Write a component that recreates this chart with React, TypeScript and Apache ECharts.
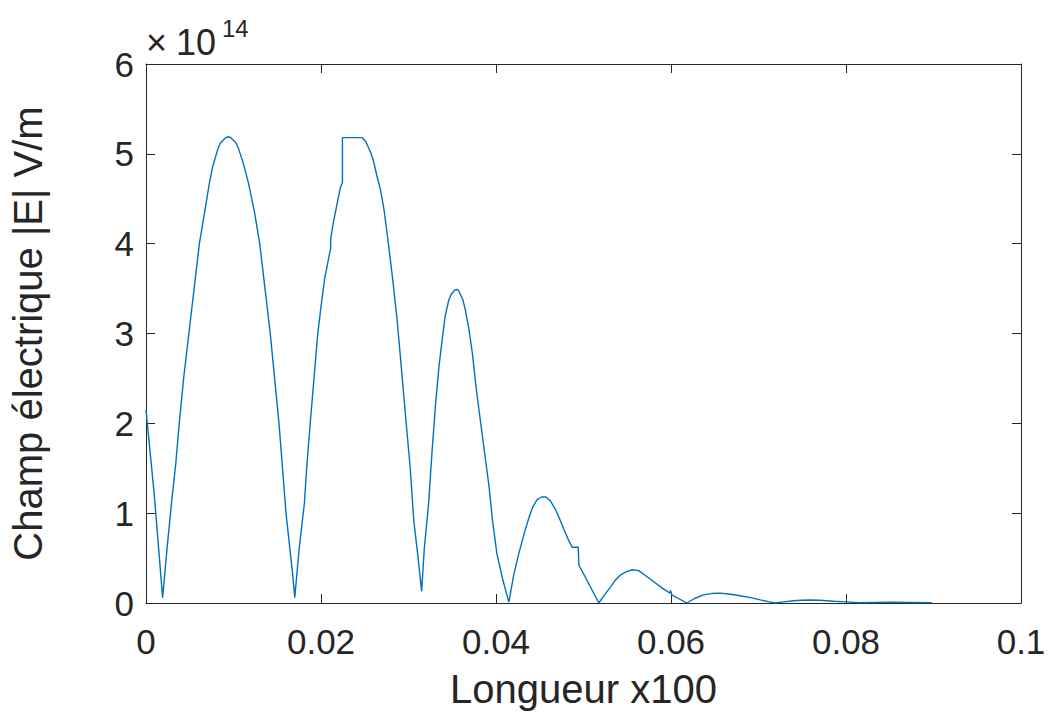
import React, { useEffect, useRef } from "react";
import * as echarts from "echarts";

// Longueur x100 (x) and |E| in units of 1e14 V/m (y)
const xValues: number[] = [
  0, 0.00095, 0.0019,
  0.0024, 0.0029, 0.0034, 0.0038, 0.0043, 0.0049, 0.0055, 0.0061, 0.0067, 0.0072, 0.0076, 0.0082, 0.0085, 0.0091, 0.0094,
  0.0097, 0.0103, 0.0106, 0.0111, 0.0117, 0.0124, 0.0130, 0.0136, 0.0142, 0.0147, 0.0152, 0.0156, 0.0160, 0.01675, 0.0170,
  0.0175, 0.0181, 0.0184, 0.0188, 0.0192, 0.0196, 0.0200, 0.0204, 0.0211, 0.0211, 0.0214, 0.0222, 0.02245, 0.02245,
  0.0247, 0.0251, 0.0257, 0.0260, 0.0264, 0.0268, 0.0272, 0.0276, 0.0282, 0.0287, 0.0292, 0.0297, 0.0302, 0.0306, 0.0311, 0.0315,
  0.0318, 0.0323, 0.0327, 0.0331, 0.0335, 0.0339, 0.0342, 0.0346, 0.0349, 0.0353, 0.0355,
  0.0357, 0.0360, 0.0362, 0.0365, 0.0369, 0.0373, 0.0377, 0.0382, 0.0387, 0.0392, 0.0396, 0.0401, 0.0408, 0.04147,
  0.0420, 0.0426, 0.0433, 0.0438, 0.0442, 0.0447, 0.0452, 0.0457,
  0.0462, 0.0468, 0.0473, 0.0478, 0.0482, 0.0487, 0.0494, 0.04947, 0.0502, 0.05175,
  0.0524, 0.0531, 0.0536, 0.0542, 0.0549, 0.0556, 0.0563, 0.0573, 0.0580, 0.0588, 0.0594, 0.0599, 0.05995, 0.0601, 0.0618,
  0.0627, 0.0637, 0.0646, 0.0656, 0.0666, 0.0679, 0.0691, 0.0702, 0.0711, 0.0719,
  0.0729, 0.0740, 0.0749, 0.0759, 0.0770, 0.0786, 0.0800, 0.0815, 0.0850, 0.0898,
];
const yValues: number[] = [
  2.15, 1.2, 0.06,
  0.6, 1.10, 1.55, 2.0, 2.5, 3.0, 3.5, 4.0, 4.35, 4.65, 4.85, 5.05, 5.12, 5.18, 5.19,
  5.18, 5.12, 5.05, 4.9, 4.68, 4.35, 4.0, 3.5, 3.0, 2.5, 2.0, 1.5, 1.0, 0.33, 0.06,
  0.6, 1.11, 1.55, 2.04, 2.5, 2.97, 3.3, 3.60, 3.95, 4.05, 4.23, 4.62, 4.68, 5.18,
  5.18, 5.14, 5.01, 4.92, 4.75, 4.6, 4.38, 4.08, 3.6, 3.15, 2.6, 2.04, 1.5, 0.92, 0.5, 0.13,
  0.6, 1.11, 1.7, 2.22, 2.65, 2.97, 3.2, 3.37, 3.44, 3.485, 3.49,
  3.48, 3.42, 3.38, 3.26, 3.05, 2.78, 2.42, 2.04, 1.67, 1.30, 0.92, 0.55, 0.25, 0.01,
  0.3, 0.55, 0.8, 0.96, 1.07, 1.15, 1.18, 1.18,
  1.14, 1.04, 0.93, 0.81, 0.72, 0.62, 0.62, 0.42, 0.29, 0.0,
  0.09, 0.18, 0.25, 0.31, 0.35, 0.37, 0.36, 0.29, 0.24, 0.18, 0.14, 0.11, 0.14, 0.09, 0.0,
  0.05, 0.09, 0.105, 0.11, 0.10, 0.08, 0.06, 0.035, 0.015, 0.0,
  0.012, 0.025, 0.03, 0.033, 0.03, 0.02, 0.012, 0.003, 0.008, 0.002,
];
const xTicks: number[] = [0, 0.02, 0.04, 0.06, 0.08, 0.1];
const yTicks: number[] = [0, 1, 2, 3, 4, 5, 6];

const FONT = "Liberation Sans, Arial, Helvetica, sans-serif";
const AX = "#262626";

export default function App() {
  const ref = useRef<HTMLDivElement>(null);
  useEffect(() => {
    if (!ref.current) return;
    const chart = echarts.init(ref.current, undefined, { renderer: "svg" });
    const data = xValues.map((x, i) => [x, yValues[i]]);
    const axisCommon = {
      type: "value" as const,
      splitLine: { show: false },
      axisLine: { show: true, onZero: false, lineStyle: { color: AX, width: 1 } },
      axisTick: { show: true, inside: true, length: 9, lineStyle: { color: AX, width: 1 } },
    };
    const txt = (text: string, x: number, y: number, size: number) => ({
      type: "text",
      x,
      y,
      style: { text, fontSize: size, fontFamily: FONT, fill: AX, verticalAlign: "middle", align: "left" },
    });
    chart.setOption({
      animation: false,
      backgroundColor: "#ffffff",
      grid: { left: 145, right: 35, top: 64, bottom: 112, containLabel: false },
      xAxis: [
        {
          ...axisCommon,
          position: "bottom",
          min: xTicks[0],
          max: xTicks[xTicks.length - 1],
          interval: 0.02,
          name: "Longueur x100",
          nameLocation: "middle",
          nameGap: 66,
          nameTextStyle: { fontFamily: FONT, fontSize: 40, color: AX },
          axisLabel: {
            margin: 21,
            fontFamily: FONT,
            fontSize: 35,
            color: AX,
            formatter: (v: number) => String(Math.round(v * 100) / 100),
          },
        },
        {
          ...axisCommon,
          position: "top",
          min: xTicks[0],
          max: xTicks[xTicks.length - 1],
          interval: 0.02,
          axisLabel: { show: false },
        },
      ],
      yAxis: [
        {
          ...axisCommon,
          position: "left",
          min: yTicks[0],
          max: yTicks[yTicks.length - 1],
          interval: 1,
          name: "Champ électrique |E| V/m",
          nameLocation: "middle",
          nameGap: 98,
          nameTextStyle: { fontFamily: FONT, fontSize: 40, color: AX },
          axisLabel: { margin: 12, fontFamily: FONT, fontSize: 35, color: AX },
        },
        {
          ...axisCommon,
          position: "right",
          min: yTicks[0],
          max: yTicks[yTicks.length - 1],
          interval: 1,
          axisLabel: { show: false },
        },
      ],
      graphic: [
        txt("×", 146, 42, 36),
        txt("10", 176, 42, 36),
        txt("14", 222, 28, 24),
      ],
      series: [
        {
          type: "line",
          data,
          xAxisIndex: 0,
          yAxisIndex: 0,
          showSymbol: false,
          symbol: "none",
          smooth: false,
          lineStyle: { color: "#0072BD", width: 1.4 },
        },
      ],
    });
    return () => chart.dispose();
  }, []);
  return (
    <div
      ref={ref}
      style={{ position: "fixed", left: 0, top: 0, width: 1056, height: 715, background: "#fff" }}
    />
  );
}
